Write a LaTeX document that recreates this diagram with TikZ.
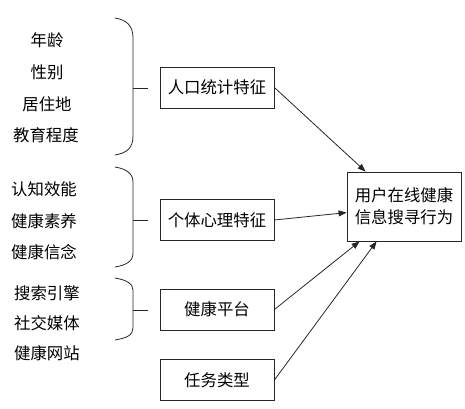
\documentclass[tikz,border=0pt]{standalone}
\usepackage{fontspec}
\setmainfont{Noto Sans CJK SC}
\usetikzlibrary{arrows.meta,calc}
\begin{document}
\begin{tikzpicture}[x=0.75pt,y=-0.75pt,
  line/.style={draw=black!85,line width=0.6pt},
  box/.style={line,rectangle,inner sep=0pt,minimum width=85.5pt,minimum height=30.75pt,font=\fontsize{12.3}{15}\selectfont},
  item/.style={inner sep=0pt,font=\fontsize{12.3}{15}\selectfont},
  arr/.style={line,-{Triangle[length=6pt,width=4.5pt]}},
  brace/.style={line,line width=0.6pt}]
\useasboundingbox (0,0) rectangle (465,409);
% left items
\node[item] (a1) at (47,40) {年龄};
\node[item] (a2) at (47,72) {性别};
\node[item] (a3) at (47,104) {居住地};
\node[item] (a4) at (46,135) {教育程度};
\node[item] (b1) at (44,189) {认知效能};
\node[item] (b2) at (44,221) {健康素养};
\node[item] (b3) at (44,252) {健康信念};
\node[item] (c1) at (47,293) {搜索引擎};
\node[item] (c2) at (47,323) {社交媒体};
\node[item] (c3) at (47,353) {健康网站};
% boxes
\node[box] (p1) at (217,87.5) {人口统计特征};
\node[box] (p2) at (217,220) {个体心理特征};
\node[box] (p3) at (217,309.5) {健康平台};
\node[box] (p4) at (217,380) {任务类型};
\node[box,minimum width=85.5pt,minimum height=51.75pt,align=center,font=\fontsize{12.3}{16.5}\selectfont] (t) at (404,206.5) {用户在线健康\\信息搜寻行为};
% braces
\coordinate (k1) at (133,88);
\coordinate (k2) at (133,220);
\coordinate (k3) at (133,310);
\coordinate (e1) at (148,88);
\coordinate (e2) at (148,220);
\coordinate (e3) at (148,310);
\draw[brace] (115,18) .. controls (127,20) and (133,26) .. (133,38) -- (133,82) .. controls (133,86) .. (k1) .. controls (133,90) .. (133,94) -- (133,136) .. controls (133,148) and (127,153) .. (115,155);
\draw[brace] (115,167) .. controls (127,169) and (133,174) .. (133,182) -- (133,214) .. controls (133,218) .. (k2) .. controls (133,222) .. (133,226) -- (133,253) .. controls (133,261) and (127,265) .. (115,267);
\draw[brace] (115,278) .. controls (127,280) and (133,284) .. (133,290) -- (133,305) .. controls (133,308) .. (k3) .. controls (133,312) .. (133,315) -- (133,328) .. controls (133,335) and (127,338) .. (115,340);
\draw[line] (k1) -- (e1);
\draw[line] (k2) -- (e2);
\draw[line] (k3) -- (e3);
% arrows
\draw[arr] (p1.east) -- ([xshift=14.25pt]t.north west);
\draw[arr] (p2.east) -- ([yshift=-30.75pt]t.north west);
\draw[arr] (p3.east) -- ([xshift=9.75pt]t.south west);
\draw[arr] (p4.east) -- ([xshift=22.5pt]t.south west);
\end{tikzpicture}
\end{document}
